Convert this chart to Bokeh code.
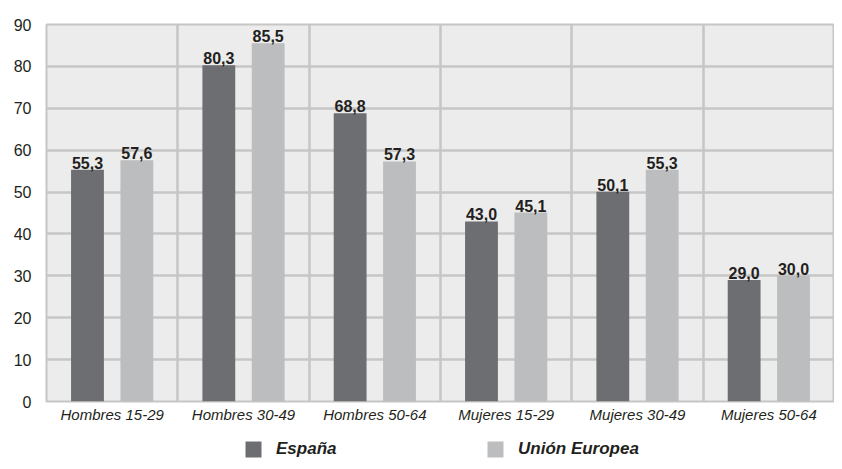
from bokeh.plotting import figure
from bokeh.layouts import column
from bokeh.models import Range1d, FixedTicker, Legend, LegendItem, ColumnDataSource
from bokeh.core.properties import value
from bokeh.embed import file_html
from bokeh.resources import INLINE

categories = ["Hombres 15-29", "Hombres 30-49", "Hombres 50-64",
              "Mujeres 15-29", "Mujeres 30-49", "Mujeres 50-64"]
espana = [55.3, 80.3, 68.8, 43.0, 50.1, 29.0]
ue = [57.6, 85.5, 57.3, 45.1, 55.3, 30.0]
series_names = ["España", "Unión Europea"]
y_ticks = [0, 10, 20, 30, 40, 50, 60, 70, 80, 90]

DARK = "#6d6e71"
LIGHT = "#bcbdbf"
BG = "#ececec"
GRID = "#c6c6c6"
TXT = "#231f20"
FONT = "Liberation Sans"

p = figure(width=834, height=425, output_backend="svg", toolbar_location=None,
           x_range=Range1d(0, 6), y_range=Range1d(0, 90),
           min_border_left=46, min_border_right=0, min_border_top=24, min_border_bottom=24)
p.background_fill_color = BG
p.border_fill_color = "white"
p.outline_line_color = GRID
p.outline_line_width = 2

centers = [i + 0.5 for i in range(len(categories))]
off = 0.188
w = 0.25

src_e = ColumnDataSource(dict(x=[c - off for c in centers], top=espana,
                              lab=[f"{v:.1f}".replace(".", ",") for v in espana]))
src_u = ColumnDataSource(dict(x=[c + off for c in centers], top=ue,
                              lab=[f"{v:.1f}".replace(".", ",") for v in ue]))

p.vbar(x="x", top="top", width=w, bottom=0, source=src_e, fill_color=DARK, line_color=None)
p.vbar(x="x", top="top", width=w, bottom=0, source=src_u, fill_color=LIGHT, line_color=None)

for src in (src_e, src_u):
    p.text(x="x", y="top", text="lab", source=src, text_align="center", text_baseline="bottom",
           y_offset=-1, text_font=value(FONT), text_font_style="bold",
           text_font_size="16px", text_color=TXT)

# axes
p.xaxis.ticker = FixedTicker(ticks=centers)
p.xaxis.major_label_overrides = {c: n for c, n in zip(centers, categories)}
p.yaxis.ticker = FixedTicker(ticks=y_ticks)
for ax in (p.xaxis[0], p.yaxis[0]):
    ax.axis_line_color = None
    ax.major_tick_line_color = None
    ax.minor_tick_line_color = None
    ax.major_tick_out = 0
    ax.major_tick_in = 0
    ax.major_label_text_color = TXT
p.xaxis.major_label_text_font = FONT
p.xaxis.major_label_text_font_style = "italic"
p.xaxis.major_label_text_font_size = "15px"
p.xaxis.major_label_standoff = 4
p.yaxis.major_label_text_font = FONT
p.yaxis.major_label_text_font_size = "16px"
p.yaxis.major_label_standoff = 15

# grid
p.xgrid.ticker = FixedTicker(ticks=list(range(len(categories) + 1)))
p.xgrid.grid_line_color = GRID
p.xgrid.grid_line_width = 2.5
p.ygrid.grid_line_color = GRID
p.ygrid.grid_line_width = 2.5

# legend strip
q = figure(width=834, height=36, output_backend="svg", toolbar_location=None,
           x_range=Range1d(0, 1), y_range=Range1d(0, 1),
           min_border_left=46, min_border_right=0, min_border_top=0, min_border_bottom=0)
q.axis.visible = False
q.grid.visible = False
q.outline_line_color = None
q.background_fill_color = "white"
hidden = ColumnDataSource(dict(x=[-10], top=[-10]))
l_e = q.vbar(x="x", top="top", width=0.1, source=hidden, fill_color=DARK, line_color=None)
l_u = q.vbar(x="x", top="top", width=0.1, source=hidden, fill_color=LIGHT, line_color=None)

legend = Legend(items=[LegendItem(label=series_names[0], renderers=[l_e], index=0),
                       LegendItem(label=series_names[1], renderers=[l_u], index=0)],
                orientation="horizontal", location=(197, 2),
                glyph_width=20, glyph_height=20, label_standoff=13,
                label_width=209, spacing=0, padding=0, margin=0,
                border_line_color=None, background_fill_alpha=0,
                label_text_font=FONT, label_text_font_style="bold italic",
                label_text_font_size="17px", label_text_color=TXT,
                label_height=20)
q.add_layout(legend, "center")

layout = column(p, q, spacing=0)
open("out.html", "w").write(file_html(layout, INLINE))
